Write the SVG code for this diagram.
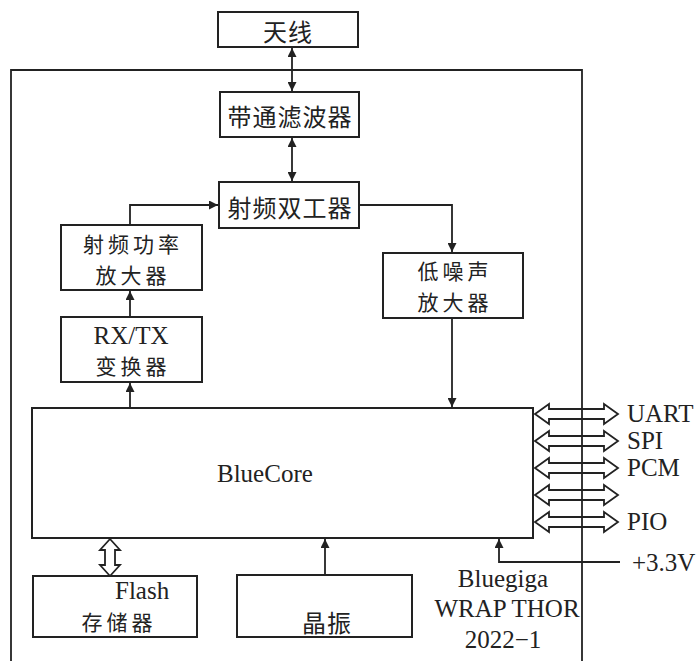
<svg xmlns="http://www.w3.org/2000/svg" width="696" height="661" viewBox="0 0 696 661">
<defs>
<style>
.box{fill:#fff;stroke:#222;stroke-width:2}
.ln{fill:none;stroke:#222;stroke-width:1.8}
.hollow{fill:#fff;stroke:#222;stroke-width:1.8;stroke-linejoin:miter}
.cjk{font-family:"Noto Sans CJK SC","Noto Sans",sans-serif;font-size:24px;fill:#222;text-anchor:middle;dominant-baseline:central;letter-spacing:1px}
.cjk2{font-family:"Noto Sans CJK SC","Noto Sans",sans-serif;font-size:21px;fill:#222;text-anchor:middle;dominant-baseline:central;letter-spacing:4px}
.lat{font-family:"Liberation Serif","Times New Roman",serif;font-size:25px;fill:#222}
</style>
<marker id="ah" viewBox="0 0 10 10" refX="10" refY="5" markerWidth="11" markerHeight="9" markerUnits="userSpaceOnUse" orient="auto-start-reverse">
<path d="M0,0 L10,5 L0,10 z" fill="#222"/>
</marker>
</defs>
<rect width="696" height="661" fill="#fff"/>
<g id="connectors">
<path class="ln" d="M292,48 V91" marker-start="url(#ah)" marker-end="url(#ah)"/>
<path class="ln" d="M292,138 V181" marker-start="url(#ah)" marker-end="url(#ah)"/>
<path class="ln" d="M130,225 V205 H218" marker-end="url(#ah)"/>
<path class="ln" d="M130,317 V291" marker-end="url(#ah)"/>
<path class="ln" d="M130,407 V383" marker-end="url(#ah)"/>
<path class="ln" d="M359,205 H452 V252" marker-end="url(#ah)"/>
<path class="ln" d="M452,318 V407" marker-end="url(#ah)"/>
<path class="ln" d="M325,575 V539" marker-end="url(#ah)"/>
<path class="ln" d="M620,562 H499 V539" marker-end="url(#ah)"/>
<path class="hollow" d="M110,539 L120,550 L115,550 L115,565 L120,565 L110,576 L100,565 L105,565 L105,550 L100,550 Z"/>
<g id="bus">
<path class="hollow" d="M535,414 L549,404 L549,409 L604,409 L604,404 L618,414 L604,424 L604,419 L549,419 L549,424 Z"/>
<path class="hollow" d="M535,441 L549,431 L549,436 L604,436 L604,431 L618,441 L604,451 L604,446 L549,446 L549,451 Z"/>
<path class="hollow" d="M535,468 L549,458 L549,463 L604,463 L604,458 L618,468 L604,478 L604,473 L549,473 L549,478 Z"/>
<path class="hollow" d="M535,495 L549,485 L549,490 L604,490 L604,485 L618,495 L604,505 L604,500 L549,500 L549,505 Z"/>
<path class="hollow" d="M535,522 L549,512 L549,517 L604,517 L604,512 L618,522 L604,532 L604,527 L549,527 L549,532 Z"/>
</g>
</g>
<g id="frame">
<path class="ln" d="M11,661 V70 H582 V661" stroke-width="2.2"/>
</g>
<g id="antenna">
<rect class="box" x="218" y="12" width="140" height="35"/>
<text class="cjk" x="288" y="30">天线</text>
</g>
<g id="bandpass">
<rect class="box" x="220" y="92" width="139" height="45"/>
<text class="cjk" x="290" y="115">带通滤波器</text>
</g>
<g id="duplexer">
<rect class="box" x="219" y="182" width="140" height="46"/>
<text class="cjk" x="290" y="206">射频双工器</text>
</g>
<g id="pa">
<rect class="box" x="61" y="225" width="141" height="65"/>
<text class="cjk2" x="133" y="243">射频功率</text>
<text class="cjk2" x="133" y="274">放大器</text>
</g>
<g id="rxtx">
<rect class="box" x="61" y="317" width="141" height="65"/>
<text class="lat" x="131" y="344" text-anchor="middle">RX/TX</text>
<text class="cjk2" x="133" y="365">变换器</text>
</g>
<g id="lna">
<rect class="box" x="383" y="253" width="140" height="65"/>
<text class="cjk2" x="455" y="270">低噪声</text>
<text class="cjk2" x="455" y="301">放大器</text>
</g>
<g id="bluecore">
<rect class="box" x="32" y="408" width="501" height="130"/>
<text class="lat" x="217" y="482" font-size="26">BlueCore</text>
</g>
<g id="flash">
<rect class="box" x="33" y="576" width="164" height="61"/>
<text class="lat" x="115" y="599">Flash</text>
<text class="cjk2" x="119" y="621">存储器</text>
</g>
<g id="crystal">
<rect class="box" x="237" y="575" width="175" height="62"/>
<text class="cjk" x="327" y="621">晶振</text>
</g>
<g id="labels">
<text class="lat" x="627" y="422">UART</text>
<text class="lat" x="627" y="449">SPI</text>
<text class="lat" x="627" y="476">PCM</text>
<text class="lat" x="627" y="530">PIO</text>
<text class="lat" x="632" y="571">+3.3V</text>
<text class="lat" x="503" y="587" text-anchor="middle">Bluegiga</text>
<text class="lat" x="507" y="617" text-anchor="middle">WRAP THOR</text>
<text class="lat" x="503" y="648" text-anchor="middle">2022−1</text>
</g>
</svg>
